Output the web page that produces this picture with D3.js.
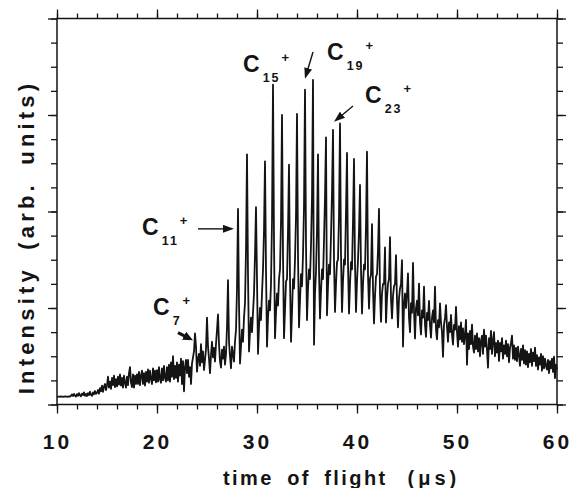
<!DOCTYPE html>
<html>
<head>
<meta charset="utf-8">
<script src="https://cdn.jsdelivr.net/npm/d3@7"></script>
<style>
  body { margin: 0; background: #fff; }
  svg { display: block; font-family: "Liberation Sans", Arial, sans-serif; font-weight: bold; }
</style>
</head>
<body>
<div id="chart"></div>
<script>
/**
 * CONSTANTS AND GLOBALS
 * */
const width = 572,
  height = 488,
  margin = { top: 18.5, right: 15, bottom: 83.5, left: 57 };

let svg;

/**
 * DATA
 * time of flight spectrum, sampled every 0.1 us from 10 us on
 * (values read off the scan, arbitrary units)
 * */
const startTime = 10.0;
const timeStep = 0.1;

// 10.0 - 22.9 us : slowly rising noisy background
const earlyTrace = [
  0.32,0.33,0.33,0.32,0.34,0.33,0.32,0.33,0.34,0.33,
  0.33,0.32,0.34,0.33,0.36,0.42,0.35,0.44,0.37,0.33,
  0.43,0.36,0.47,0.38,0.34,0.45,0.39,0.50,0.36,0.44,
  0.35,0.47,0.39,0.53,0.40,0.36,0.50,0.42,0.56,0.44,
  0.48,0.60,0.45,0.68,0.55,0.78,0.52,0.74,0.85,0.60,
  0.80,1.15,0.70,0.95,0.65,1.10,0.80,1.20,0.72,1.05,
  0.75,1.15,0.82,1.25,0.78,1.10,0.70,1.20,0.90,0.70,
  1.15,0.80,1.30,1.55,0.90,0.72,1.25,0.70,1.20,0.85,
  1.25,0.85,1.35,0.80,1.20,1.40,0.85,1.30,0.78,1.35,
  0.95,1.45,0.90,1.40,1.05,0.85,1.50,1.00,1.40,0.92,
  1.42,0.95,1.55,1.05,0.90,1.50,1.00,1.60,1.10,0.95,
  1.55,1.00,1.65,0.95,1.75,1.15,2.00,1.05,1.60,1.10,
  1.75,0.95,1.65,1.20,1.90,0.85,1.80,0.55,1.55,1.85
];

// 23.0 - 49.9 us : carbon cluster peaks C7+ ... C40+
const clusterTrace = [
  1.30,1.85,1.15,1.55,0.85,1.70,1.95,2.20,2.95,2.40,
  1.36,1.90,2.10,1.60,2.50,1.75,2.20,1.43,1.85,2.30,
  3.60,2.40,1.90,1.30,2.05,2.60,1.95,2.35,1.78,2.50,
  3.10,3.73,2.50,1.80,1.53,2.27,1.90,2.40,1.65,2.10,
  3.20,5.15,2.60,2.00,1.50,2.40,2.07,1.78,2.60,3.10,
  4.80,8.11,4.20,1.70,2.40,3.10,2.60,3.60,4.20,6.40,
  10.37,5.40,2.20,3.00,3.60,3.00,3.80,4.60,6.20,8.18,
  5.20,2.10,3.20,4.00,3.50,4.60,5.60,7.20,10.08,5.60,
  2.40,3.60,4.30,3.90,5.00,7.60,13.26,6.80,2.75,3.80,
  4.60,4.10,5.20,5.60,7.60,12.00,6.20,2.75,3.90,5.10,
  5.20,7.20,9.94,5.20,2.60,3.80,5.20,4.80,6.00,7.80,
  12.05,6.20,3.20,4.30,5.40,4.90,6.20,8.20,13.05,6.60,
  3.50,4.80,5.60,5.20,6.60,8.60,13.46,2.48,4.60,5.50,
  7.20,10.37,5.60,3.57,4.70,5.60,5.20,6.80,8.60,11.07,
  3.70,4.90,5.80,5.40,7.00,8.80,11.38,6.00,3.84,5.00,
  5.90,6.00,7.80,11.65,6.20,3.84,5.10,6.00,5.80,8.00,
  10.43,5.80,3.77,5.00,5.90,5.60,7.60,10.18,5.80,3.84,
  5.10,6.00,7.20,9.10,5.60,3.77,5.00,5.80,5.60,7.40,
  10.48,5.40,3.98,5.20,5.40,7.48,4.80,3.36,4.50,5.30,
  5.40,6.40,8.11,4.60,3.43,4.60,5.00,5.00,6.51,3.40,
  4.40,5.00,5.20,6.94,4.40,3.57,4.50,4.90,5.00,6.19,
  4.30,3.20,4.40,4.80,5.00,5.98,2.40,4.10,4.60,4.00,
  4.60,5.43,3.60,3.00,4.20,3.80,5.87,3.90,2.74,4.00,
  4.30,3.70,5.01,3.40,2.90,3.90,3.60,4.88,3.30,2.80,
  3.80,3.50,4.29,3.30,2.77,3.60,3.90,3.40,4.88,3.10,
  2.70,3.50,3.20,4.19,3.40,3.00,1.98,3.30,3.60,4.12,
  3.20,2.60,3.40,3.00,3.71,2.90,2.48,3.30,3.10,4.05
];

// 50.0 - 60.0 us : decaying tail
const tailTrace = [
  3.00,2.40,3.25,2.70,3.40,2.60,3.15,2.50,2.90,3.51,
  1.65,2.95,2.30,3.05,2.50,3.31,2.40,2.15,2.85,2.30,
  2.95,2.20,2.75,2.00,2.65,2.85,2.10,3.10,2.40,2.85,
  2.25,1.53,2.75,2.30,3.05,2.10,2.65,3.00,2.00,2.55,
  2.15,2.65,1.80,2.55,2.20,2.75,1.90,2.45,2.10,2.65,
  2.00,2.50,1.75,2.35,2.55,2.85,1.90,2.45,1.85,2.35,
  1.80,2.40,2.05,1.60,2.30,1.85,2.45,1.70,2.25,1.65,
  2.20,1.55,2.10,1.75,2.30,1.60,2.15,1.80,2.36,1.60,
  2.05,1.45,1.95,1.65,2.10,1.40,2.00,1.50,1.90,1.60,
  1.45,1.85,1.30,1.80,1.50,1.90,1.35,1.98,1.09,1.65,
  1.45
];

// axis ticks
const xMajorTicks = [10, 20, 30, 40, 50, 60];
const xMinorTicks = d3.range(10, 61, 2);
const yMajorTicks = [0, 4, 8, 12, 16];
const yMinorTicks = d3.range(0, 17, 1);

// labelled cluster ions
const ionSizes = ["7", "11", "15", "19", "23"];

/**
 * ANNOTATION LAYOUT (data coordinates)
 * */
const labelLayout = [
  { t: 19.6, v: 3.71 },
  { t: 18.5, v: 7.03 },
  { t: 28.6, v: 13.78 },
  { t: 37.0, v: 14.28 },
  { t: 40.8, v: 12.50 },
];
const arrowLayout = [
  { from: [22.1, 2.98], to: [23.6, 2.66], w: 3.2 },
  { from: [24.1, 7.28], to: [27.7, 7.28], w: 1.4 },
  null,
  { from: [35.6, 14.61], to: [34.8, 13.50], w: 1.4 },
  { from: [39.6, 12.37], to: [37.7, 11.72], w: 1.4 },
];

init();

function init() {
  const trace = earlyTrace.concat(clusterTrace, tailTrace);

  const x = d3.scaleLinear()
    .domain([10, 60])
    .range([margin.left, width - margin.right]);
  const y = d3.scaleLinear()
    .domain([0, 16])
    .range([height - margin.bottom, margin.top]);

  svg = d3.select("#chart")
    .append("svg")
    .attr("width", width)
    .attr("height", height);

  const ink = "#141414";

  // ---- axes (all ticks point outwards)
  const axisG = (axis, tx, ty) => {
    const g = svg.append("g")
      .attr("transform", `translate(${tx},${ty})`)
      .call(axis);
    g.select(".domain").remove();
    g.selectAll("line").attr("stroke", ink).attr("stroke-width", 1.3);
    return g;
  };

  const yB = height - margin.bottom, yT = margin.top;
  const xL = margin.left, xR = width - margin.right;

  axisG(d3.axisBottom(x).tickValues(xMinorTicks).tickSize(5).tickFormat(""), 0, yB);
  const bottom = axisG(
    d3.axisBottom(x).tickValues(xMajorTicks).tickSize(9).tickPadding(21).tickFormat(d3.format("d")),
    0, yB);
  bottom.selectAll("text")
    .attr("fill", ink)
    .attr("font-size", 21)
    .attr("font-family", "Liberation Sans, Arial, sans-serif")
    .attr("font-weight", "bold")
    .attr("letter-spacing", 3);

  axisG(d3.axisTop(x).tickValues(xMinorTicks).tickSize(5).tickFormat(""), 0, yT);
  axisG(d3.axisTop(x).tickValues(xMajorTicks).tickSize(9).tickFormat(""), 0, yT);

  axisG(d3.axisLeft(y).tickValues(yMinorTicks).tickSize(6).tickFormat(""), xL, 0);
  axisG(d3.axisLeft(y).tickValues(yMajorTicks).tickSize(9).tickFormat(""), xL, 0);
  axisG(d3.axisRight(y).tickValues(yMinorTicks).tickSize(6).tickFormat(""), xR, 0);
  axisG(d3.axisRight(y).tickValues(yMajorTicks).tickSize(9).tickFormat(""), xR, 0);

  // frame
  svg.append("rect")
    .attr("x", xL).attr("y", yT)
    .attr("width", xR - xL).attr("height", yB - yT)
    .attr("fill", "none")
    .attr("stroke", ink)
    .attr("stroke-width", 1.5);

  // ---- spectrum trace
  const line = d3.line()
    .x((d, i) => x(startTime + i * timeStep))
    .y(d => y(d));

  svg.append("path")
    .datum(trace)
    .attr("d", line)
    .attr("fill", "none")
    .attr("stroke", ink)
    .attr("stroke-width", 1.8)
    .attr("stroke-linejoin", "round");

  // ---- axis titles
  const xTitle = svg.append("text")
    .attr("x", 223)
    .attr("y", 485)
    .attr("font-size", 20)
    .attr("fill", ink);
  xTitle.append("tspan")
    .attr("letter-spacing", 2.4)
    .attr("word-spacing", 5.5)
    .text("time of flight");
  xTitle.append("tspan")
    .attr("dx", 20)
    .attr("letter-spacing", 4)
    .text("(\u03bcs)");

  svg.append("text")
    .attr("transform", "translate(34,237) rotate(-90)")
    .attr("text-anchor", "middle")
    .attr("font-size", 22)
    .attr("letter-spacing", 4.2)
    .attr("word-spacing", 6)
    .attr("fill", ink)
    .text("Intensity (arb. units)");

  // ---- ion labels  C_n^+
  ionSizes.forEach((n, i) => {
    const pos = labelLayout[i];
    const px = x(pos.t), py = y(pos.v);
    const c = svg.append("text")
      .attr("x", px).attr("y", py)
      .attr("font-size", 23)
      .attr("fill", ink)
      .text("C");
    const cw = c.node().getComputedTextLength();
    const sub = svg.append("text")
      .attr("x", px + cw + 3).attr("y", py + 10)
      .attr("font-size", 12.5)
      .attr("letter-spacing", 2)
      .attr("fill", ink)
      .text(n);
    const sw = sub.node().getComputedTextLength();
    svg.append("text")
      .attr("x", px + cw + sw + 4).attr("y", py - 10)
      .attr("font-size", 13)
      .attr("fill", ink)
      .text("+");
  });

  // ---- arrows
  const defs = svg.append("defs");
  [["head", 11, 8], ["headBig", 10, 9]].forEach(([id, len, wid]) => {
    defs.append("marker")
      .attr("id", id)
      .attr("markerUnits", "userSpaceOnUse")
      .attr("viewBox", `0 0 ${len} ${wid}`)
      .attr("refX", len).attr("refY", wid / 2)
      .attr("markerWidth", len).attr("markerHeight", wid)
      .attr("orient", "auto")
      .append("path")
      .attr("d", `M0,0L${len},${wid / 2}L0,${wid}Z`)
      .attr("fill", ink);
  });

  arrowLayout.forEach(a => {
    if (!a) return;
    const x1 = x(a.from[0]), y1 = y(a.from[1]);
    const x2 = x(a.to[0]), y2 = y(a.to[1]);
    // stop the shaft a bit short so the tip stays sharp
    const k = 1 - 6 / Math.hypot(x2 - x1, y2 - y1);
    svg.append("line")
      .attr("x1", x1).attr("y1", y1)
      .attr("x2", x1 + (x2 - x1) * k).attr("y2", y1 + (y2 - y1) * k)
      .attr("stroke", ink)
      .attr("stroke-width", a.w);
    svg.append("line")
      .attr("x1", x1 + (x2 - x1) * k).attr("y1", y1 + (y2 - y1) * k)
      .attr("x2", x2).attr("y2", y2)
      .attr("stroke", "none")
      .attr("marker-end", a.w > 2 ? "url(#headBig)" : "url(#head)");
  });
}
</script>
</body>
</html>
